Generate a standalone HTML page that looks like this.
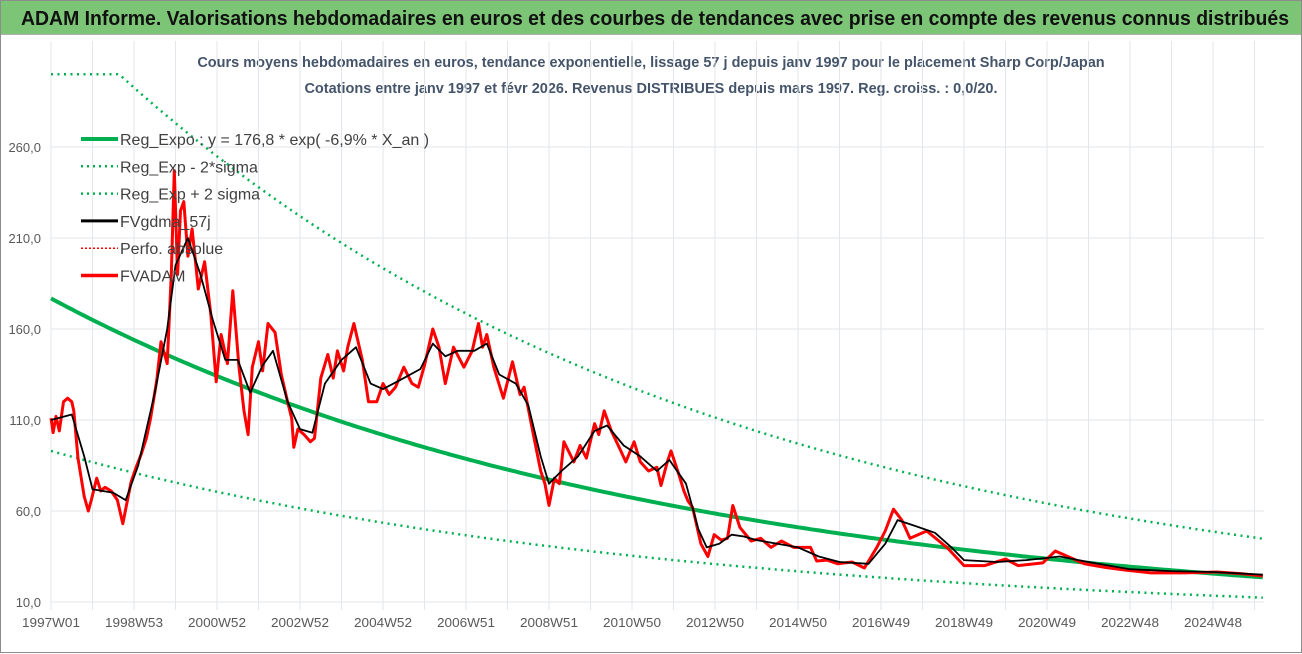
<!DOCTYPE html>
<html><head><meta charset="utf-8">
<style>
body{margin:0;width:1302px;height:653px;overflow:hidden;background:#fff;font-family:"Liberation Sans",sans-serif}
#frame{position:absolute;left:0;top:0;width:1300px;height:651px;border:1px solid #8c8c8c;background:#fff}
#topbar{position:absolute;left:0;top:0;width:1300px;height:33px;background:#7cc576;border-bottom:1px solid #b0b0b0}
</style></head><body>
<div id="frame">
<div id="topbar"><svg width="1300" height="33" style="position:absolute;left:0;top:0"><text x="20" y="24" font-size="20" font-weight="bold" fill="#111" textLength="1268" lengthAdjust="spacingAndGlyphs">ADAM Informe. Valorisations hebdomadaires en euros et des courbes de tendances avec prise en compte des revenus connus distribués</text></svg></div>
<svg id="chart" width="1302" height="653" style="position:absolute;left:0;top:0"></svg>
</div>
<script>
const yTicks=[10,60,110,160,210,260];
const xTickLabels=["1997W01","1998W53","2000W52","2002W52","2004W52","2006W51","2008W51","2010W50","2012W50","2014W50","2016W49","2018W49","2020W49","2022W48","2024W48"];
const regA=176.8, regRate=-0.069, sigUp=1.9, sigDn=0.526, capMax=300, tEnd=29.2;
const redT=[0,0.05,0.12,0.2,0.3,0.4,0.5,0.55,0.65,0.8,0.9,0.97,1.1,1.2,1.3,1.45,1.6,1.73,1.93,2.05,2.17,2.3,2.4,2.55,2.65,2.8,2.9,2.97,3.05,3.12,3.2,3.3,3.4,3.55,3.7,3.85,3.98,4.1,4.25,4.38,4.53,4.65,4.75,4.85,5.0,5.1,5.23,5.4,5.55,5.7,5.8,5.85,5.95,6.1,6.25,6.35,6.5,6.67,6.8,6.9,7.05,7.15,7.3,7.5,7.65,7.85,8.0,8.15,8.3,8.5,8.7,8.85,9.0,9.2,9.35,9.5,9.7,9.95,10.15,10.3,10.4,10.5,10.67,10.9,11.12,11.3,11.4,11.64,11.8,11.9,12.0,12.13,12.25,12.36,12.6,12.75,12.9,13.1,13.2,13.33,13.5,13.73,13.85,14.05,14.2,14.4,14.6,14.7,14.85,14.94,15.13,15.25,15.35,15.46,15.66,15.83,15.98,16.15,16.3,16.43,16.6,16.87,17.1,17.35,17.6,17.9,18.3,18.45,18.7,18.96,19.3,19.6,19.9,20.1,20.3,20.5,20.7,21.1,21.6,22.0,22.5,23.0,23.3,23.9,24.2,24.5,24.9,25.4,25.9,26.5,27.3,28.1,28.7,29.2];
const redV=[111,103,112,104,120,122,120,115,89,68,60,66,78,71,73,71,66,53,76,84,91,100,111,132,153,141,190,247,190,225,230,200,215,182,197,168,131,157,141,181,139,115,102,139,153,137,163,158,135,120,111,95,105,102,98,100,133,146,133,148,137,150,163,143,120,120,130,124,128,139,130,128,140,160,150,130,150,139,148,163,150,157,139,122,142,124,128,100,82,75,63,78,75,98,87,96,89,108,102,115,104,93,87,98,87,82,84,74,87,93,80,71,65.5,62,42,35,47,44,45,63,51,43.5,45,40,43.5,40,40,32.5,33,31,32,28.7,40,49,61,55,45,49,39.7,30,30,33.6,30,31.5,38,35,31,29,27.5,26,26,26.5,25.5,24.3];
const blkT=[0,0.5,0.8,1.0,1.5,1.8,2.1,2.5,2.8,3.0,3.3,3.6,3.9,4.2,4.5,4.8,5.1,5.35,5.7,6.0,6.3,6.6,7.0,7.35,7.7,8.0,8.5,8.9,9.2,9.5,9.8,10.2,10.5,10.8,11.2,11.5,11.8,12.0,12.3,12.7,13.1,13.4,13.8,14.2,14.6,14.9,15.3,15.6,15.8,16.1,16.4,16.7,17.0,17.5,18.0,18.5,19.0,19.7,20.1,20.4,20.8,21.3,21.7,22.0,22.8,23.5,24.3,25.0,26.0,27.0,28.0,29.2];
const blkV=[110,113,90,72,70,66,85,125,160,195,210,190,165,143,143,125,140,148,120,105,103,130,143,150,130,127,133,138,152,145,148,148,152,135,130,118,90,75,82,90,104,107,96,90,82,88,75,50,40,42,47,46,44,42,40,35,32,31,42,55,52,48,40,33,32,33,35,32,28,27,26.5,25];

const svg=document.getElementById('chart');
const NS='http://www.w3.org/2000/svg';
const L=50,R=1263,T=71,B=601;
const X=t=>L+t*41.5;
const Y=v=>B-(v-10)*1.82;
function mk(tag,attrs,parent){const e=document.createElementNS(NS,tag);for(const k in attrs)e.setAttribute(k,attrs[k]);(parent||svg).appendChild(e);return e;}
const s1=mk('text',{x:650,y:66,'text-anchor':'middle','font-size':'14.5','font-weight':'bold',fill:'#44546a'});


s1.textContent='Cours moyens hebdomadaires en euros, tendance exponentielle, lissage 57 j depuis janv 1997 pour le placement Sharp Corp/Japan';
const s2=mk('text',{x:650,y:92,'text-anchor':'middle','font-size':'14.5','font-weight':'bold',fill:'#44546a'});


s2.textContent='Cotations entre janv 1997 et févr 2026. Revenus DISTRIBUES depuis mars 1997. Reg. croiss. : 0,0/20.';
for(let i=0;i<=29;i++){const g=mk('line',{x1:X(i),x2:X(i),y1:40,y2:609,stroke:'#e3e6ea','stroke-width':1});

}
yTicks.forEach(v=>{const g=mk('line',{x1:L,x2:R,y1:Y(v),y2:Y(v),stroke:'#e3e6ea','stroke-width':1});


const t=mk('text',{x:40,y:Y(v)+5,'text-anchor':'end','font-size':'13',fill:'#595959'});


t.textContent=v.toFixed(1).replace('.',',');});
xTickLabels.forEach((s,i)=>{const t=mk('text',{x:X(i*2),y:626,'text-anchor':'middle','font-size':'13',fill:'#595959',textLength:58,lengthAdjust:'spacingAndGlyphs'});


t.textContent=s;});
function curve(f){let d='';for(let t=0;t<=tEnd+0.001;t+=0.1){d+=(d?'L':'M')+X(t).toFixed(1)+','+Y(f(t)).toFixed(1);}return d;}
const reg=t=>regA*Math.exp(regRate*t);
const up=mk('path',{d:curve(t=>Math.min(capMax,reg(t)*sigUp)),fill:'none',stroke:'#00b050','stroke-width':2.5,'stroke-dasharray':'2 4.5'});


const dn=mk('path',{d:curve(t=>reg(t)*sigDn),fill:'none',stroke:'#00b050','stroke-width':2.5,'stroke-dasharray':'2 4.5'});


const rg=mk('path',{d:curve(reg),fill:'none',stroke:'#00b050','stroke-width':4});


function poly(ts,vs){return ts.map((t,i)=>(i?'L':'M')+X(t).toFixed(1)+','+Y(vs[i]).toFixed(1)).join('');}
const red=mk('path',{d:poly(redT,redV),fill:'none',stroke:'#ff0000','stroke-width':3,'stroke-linejoin':'round'});


const blk=mk('path',{d:poly(blkT,blkV),fill:'none',stroke:'#000','stroke-width':1.8,'stroke-linejoin':'round'});


const leg=[["Reg_Expo : y = 176,8 * exp( -6,9% *  X_an )",'#00b050',4,null],["Reg_Exp - 2*sigma",'#00b050',2.5,'2 4'],["Reg_Exp + 2 sigma",'#00b050',2.5,'2 4'],["FVgdma_57j",'#000',3,null],["Perfo. absolue",'#ff0000',1.5,'2 2'],["FVADAM",'#ff0000',3.5,null]];
leg.forEach((e,i)=>{const y=138+i*27.3;
const ln=mk('line',{x1:80,x2:117,y1:y,y2:y,stroke:e[1],'stroke-width':e[2]});
if(e[3])ln.setAttribute('stroke-dasharray',e[3]);


const tx=mk('text',{x:119,y:y+6,'font-size':'16',fill:'#404040'});


tx.textContent=e[0];});
</script>
</body></html>
